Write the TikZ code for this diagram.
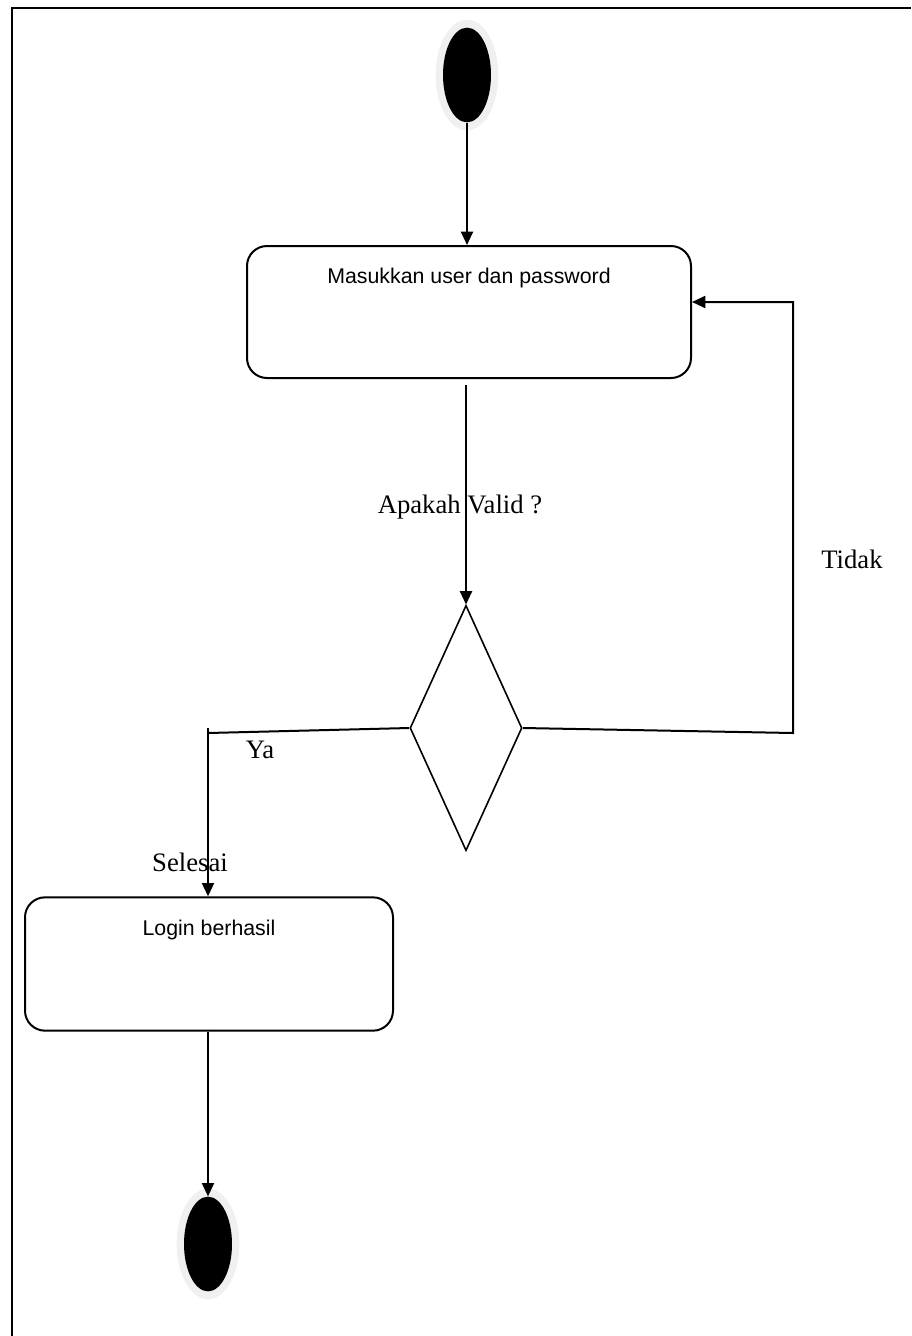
\documentclass[tikz,border=0pt]{standalone}
\usepackage{fontspec}
\setmainfont{Liberation Serif}
\newfontfamily\boxfont{Liberation Sans}
\usepackage{tikz}
\usetikzlibrary{shapes.geometric}
\usetikzlibrary{arrows.meta}
\tikzstyle{halo}=[ellipse, fill=black!6, inner sep=0pt, minimum width=47pt, minimum height=83pt]
\tikzstyle{dot}=[ellipse, fill=black, inner sep=0pt, minimum width=36pt, minimum height=71pt]
\tikzstyle{act}=[draw, line width=1.5pt, rounded corners=15pt, inner sep=0pt]
\tikzstyle{acttext}=[anchor=north, yshift=-14pt, font=\boxfont\fontsize{16}{19}\selectfont]
\tikzstyle{decision}=[diamond, draw, line width=1.2pt, inner sep=0pt, minimum width=84pt, minimum height=184pt]
\tikzstyle{guard}=[font=\fontsize{20}{24}\selectfont, inner sep=0pt]
\tikzstyle{arr}=[line width=1.5pt, -{Triangle[length=10pt, width=9pt]}]

\begin{document}
\begin{tikzpicture}[x=0.75pt, y=-0.75pt]
        \useasboundingbox (0,0) rectangle (911,1336);
        \draw[line width=1.6pt] (12,1336) -- (12,8) -- (911,8);
        \node[halo]                           (S0) at (467,75) {};
        \node[dot]                            (S) at (467,75) {};
        \node[act, minimum width=333pt, minimum height=99pt,
              label={[acttext]north:Masukkan user dan password}] (M) at (469,312) {};
        \node[decision]                       (D) at (466,728) {};
        \node[act, minimum width=276pt, minimum height=100pt,
              label={[acttext]north:Login berhasil}] (L) at (209,964) {};
        \node[halo]                           (E0) at (208,1244) {};
        \node[dot]                            (E) at (208,1244) {};
        \coordinate (Y) at (208,733);
        \coordinate (T1) at (793,733);
        \coordinate (T2) at (793,302);
        \draw[arr] (S) -- (M.north -| S);
        \draw[arr] ([yshift=-4.5pt]M.south -| D.north) -- (D.north);
        \draw[line width=1.5pt] (D.west) -- (Y);
        \draw[arr] ([yshift=4pt]Y) -- (L.north -| Y);
        \draw[arr] (D.east) -- (T1) -- (T2) -- (M.east |- T2);
        \draw[arr] (L.south -| E) -- (E.north);
        \node[guard] (valid) at (460,507) {Apakah Valid ?};
        \node[guard] (tidak) at (852,559) {Tidak};
        \node[guard] (ya) at (260,750) {Ya};
        \node[guard] (selesai) at (190,862) {Selesai};
    \end{tikzpicture}
\end{document}
